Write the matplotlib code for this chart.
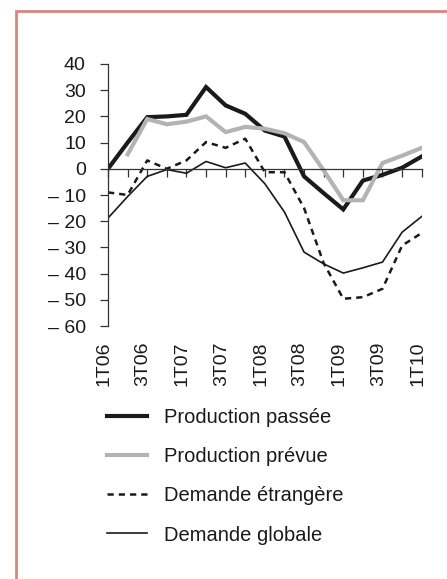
import numpy as np
import matplotlib
matplotlib.use('Agg')
import matplotlib.pyplot as plt
import matplotlib.transforms as mtransforms
from matplotlib.patches import Rectangle

plt.rcParams['font.family'] = ['Liberation Sans', 'DejaVu Sans']

# Quarterly data, 1T06 .. 1T10
quarters = ['1T06', '2T06', '3T06', '4T06', '1T07', '2T07', '3T07', '4T07',
            '1T08', '2T08', '3T08', '4T08', '1T09', '2T09', '3T09', '4T09', '1T10']
prod_passee = [0, 10, 19.7, 20, 20.6, 31.2, 24.2, 21, 14.6, 12.3, -2.9, -9.3,
               -15.5, -4.5, -2.3, 0.4, 4.7]
prod_prevue = [None, 5.5, 19, 17, 18, 20, 14, 16, 15.3, 13.6, 10.2, -0.6,
               -12, -12, 2.2, 5, 8]
dem_etrangere = [-9, -10, 3.2, 0, 3.2, 10.2, 8, 11.5, -1.3, -1.3, -15, -36,
                 -49.6, -49, -45.8, -29.3, -24.5]
dem_globale = [-18.8, -10.6, -2.9, -0.3, -1.7, 2.8, 0.4, 2.2, -5.7, -16.5,
               -31.8, -36.3, -39.8, -37.8, -35.6, -24.2, -18.2]
yticks = [40, 30, 20, 10, 0, -10, -20, -30, -40, -50, -60]

x = np.arange(len(quarters))
prevue = np.array([np.nan if v is None else v for v in prod_prevue], dtype=float)

fig = plt.figure(figsize=(4.47, 5.79), dpi=100)
ax = fig.add_axes([108 / 447, 1 - 326 / 579, 313.7 / 447, 262 / 579])

l1, = ax.plot(x, prod_passee, color='#1a1a1a', lw=3.0, solid_joinstyle='miter')
l2, = ax.plot(x, prevue, color='#b3b3b3', lw=3.0, solid_joinstyle='miter')
l3, = ax.plot(x, dem_etrangere, color='#1a1a1a', lw=1.8, linestyle=(0, (2.5, 2)))
l4, = ax.plot(x, dem_globale, color='#1a1a1a', lw=1.2)

ax.set_xlim(0, len(quarters) - 1)
ax.set_ylim(-60, 40)

# y axis
ax.spines['left'].set_color('#333333')
ax.spines['left'].set_linewidth(0.9)
ax.set_yticks(yticks)
ax.set_yticklabels([str(v) if v >= 0 else '\u2013 ' + str(-v) for v in yticks])
ax.tick_params(axis='y', direction='out', length=6, width=0.9, color='#333333',
               pad=10, labelsize=14, labelcolor='#1a1a1a')

# x axis drawn along zero, ticks downward
ax.spines['top'].set_visible(False)
ax.spines['right'].set_visible(False)
ax.spines['bottom'].set_position(('data', 0))
ax.spines['bottom'].set_color('#333333')
ax.spines['bottom'].set_linewidth(0.9)
ax.set_xticks(x)
ax.set_xticklabels([])
ax.tick_params(axis='x', direction='out', length=6, width=0.9, color='#333333')

sec = ax.secondary_xaxis('bottom')
sec.spines['bottom'].set_visible(False)
sec.set_xticks(x[::2])
sec.set_xticklabels(quarters[::2], rotation=90)
sec.tick_params(axis='x', length=0, pad=11, labelsize=14, labelcolor='#1a1a1a')
shift = mtransforms.ScaledTranslation(-4 / 100, 0, fig.dpi_scale_trans)
for lab in sec.get_xticklabels():
    lab.set_transform(lab.get_transform() + shift)

leg = fig.legend([l1, l2, l3, l4],
                 ['Production passée', 'Production prévue',
                  'Demande étrangère', 'Demande globale'],
                 loc='upper left', bbox_to_anchor=(89 / 447, 1 - 390 / 579),
                 frameon=False, fontsize=14.5, handlelength=2.0,
                 handletextpad=0.8, labelspacing=1.0)
for t in leg.get_texts():
    t.set_color('#1a1a1a')

# outer frame
fig.patches.append(Rectangle((15.7 / 447, -0.1), 1.2, 1.1 - 11 / 579,
                             transform=fig.transFigure, fill=False,
                             edgecolor='#d98580', lw=2.0))

fig.savefig('out.png', dpi=100)
